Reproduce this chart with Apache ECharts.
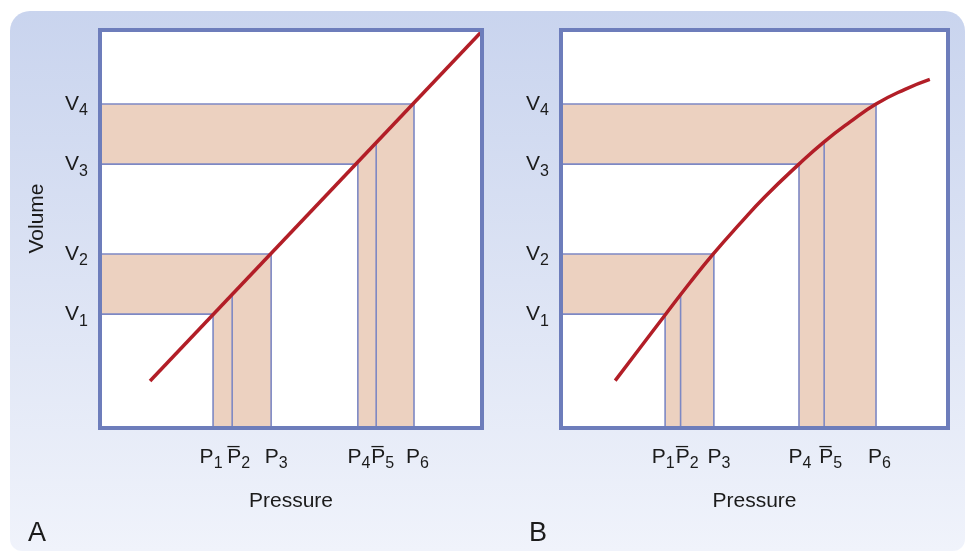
<!DOCTYPE html>
<html><head><meta charset="utf-8">
<script src="https://cdn.jsdelivr.net/npm/echarts@6/dist/echarts.min.js"></script>
<style>html,body{margin:0;padding:0;background:#fff}#c{width:976px;height:551px}</style>
</head><body><div id="c"></div>
<script>
// ---------- data ----------
const volumeTicks = [28.6, 43.7, 66.3, 81.4];          // V1..V4
const volumeTickLabels = ['1', '2', '3', '4'];
const pressureTicksA = [29.6, 34.6, 44.8, 67.5, 72.3, 82.2]; // P1..P6 panel A
const pressureTicksB = [26.9, 30.9, 39.5, 61.5, 68.0, 81.4]; // P1..P6 panel B
const pressureTickLabels = ['1', '2', '3', '4', '5', '6'];
const pressureMeanFlags = [false, true, false, false, true, false];
const lineA = [[13.1, 11.8], [99.6, 99.3]];
const curveB = [[14.0, 11.9], [20.4, 20.1], [26.9, 28.4], [33.3, 36.5], [39.3, 43.7], [46.3, 51.4],
                [52.7, 58.1], [61.5, 66.3], [68.0, 71.9], [74.7, 76.9], [81.4, 81.4], [88.9, 85.1], [95.3, 87.6]];
const meanTopsA = [33.5, 71.7];
const meanTopsB = [33.4, 71.9];

// ---------- style ----------
const FONT = "'Liberation Sans', Arial, Helvetica, sans-serif";
const TXT = '#1b1b1b';
const FRAME = '#6d7dbb';
const BAND_FILL = '#ecd1c0';
const BAND_STROKE = '#7d88c4';
const RED = '#b21e27';
const P_LABEL_SHIFT = [-2, 6.5, 5, 1, 6.5, 3.5];
// label build order (keeps close neighbours away from the first/last slots)
const P_LABEL_ORDER = [3, 0, 1, 2, 4, 5];

function bandsFor(pt, tops) {
  return [
    [volumeTicks[0], volumeTicks[1], pt[0], pt[2], pt[1], tops[0]],
    [volumeTicks[2], volumeTicks[3], pt[3], pt[5], pt[4], tops[1]]
  ];
}

function renderBand(params, api) {
  const vl = api.value(0), vh = api.value(1), pl = api.value(2), ph = api.value(3), pm = api.value(4), pt = api.value(5);
  const pts = [[0, vh], [ph, vh], [ph, 0], [pl, 0], [pl, vl], [0, vl]].map(p => api.coord(p));
  const m0 = api.coord([pm, 0]), m1 = api.coord([pm, pt]);
  return {
    type: 'group',
    children: [
      { type: 'polygon', shape: { points: pts }, style: { fill: BAND_FILL, stroke: BAND_STROKE, lineWidth: 1.6 } },
      { type: 'line', shape: { x1: m0[0], y1: m0[1], x2: m1[0], y2: m1[1] }, style: { stroke: BAND_STROKE, lineWidth: 1.6 } }
    ]
  };
}

const richBase = {
  m: { fontSize: 21, lineHeight: 30, verticalAlign: 'middle', fontFamily: FONT, color: TXT },
  s: { fontSize: 16, lineHeight: 16, verticalAlign: 'bottom', fontFamily: FONT, color: TXT }
};
const richP = Object.assign({}, richBase);
P_LABEL_SHIFT.forEach((d, i) => { richP['sp' + i] = { width: Math.max(0.5, 2 * Math.abs(d)), fontSize: 4, lineHeight: 4 }; });

function pFormatter(ticks) {
  return function (v) {
    const i = ticks.findIndex(t => Math.abs(t - v) < 1e-6);
    if (i < 0) return '';
    const main = pressureMeanFlags[i] ? 'P\u0305' : 'P';
    const body = '{m|' + main + '}{s|' + pressureTickLabels[i] + '}';
    return P_LABEL_SHIFT[i] >= 0 ? '{sp' + i + '| }' + body : body + '{sp' + i + '| }';
  };
}
function vFormatter(v) {
  const i = volumeTicks.findIndex(t => Math.abs(t - v) < 1e-6);
  if (i < 0) return '';
  return '{m|V}{s|' + volumeTickLabels[i] + '}';
}

const frameLine = { show: true, onZero: false, lineStyle: { color: FRAME, width: 4, cap: 'square' } };

function xAxes(gi, ticks) {
  return [
    {
      gridIndex: gi, type: 'value', min: 0, max: 100, position: 'bottom', z: 6,
      axisLine: frameLine, axisTick: { show: false }, splitLine: { show: false },
      axisLabel: { show: true, customValues: P_LABEL_ORDER.map(k => ticks[k]), margin: 14, formatter: pFormatter(ticks), rich: richP,
                   hideOverlap: false, showMinLabel: true, showMaxLabel: true },
      name: 'Pressure', nameLocation: 'middle', nameGap: 63,
      nameTextStyle: { fontSize: 21, fontFamily: FONT, color: TXT }
    },
    {
      gridIndex: gi, type: 'value', min: 0, max: 100, position: 'top', z: 6,
      axisLine: frameLine, axisTick: { show: false }, splitLine: { show: false }, axisLabel: { show: false }
    }
  ];
}
function yAxes(gi, withName) {
  const left = {
    gridIndex: gi, type: 'value', min: 0, max: 100, position: 'left', z: 6,
    axisLine: frameLine, axisTick: { show: false }, splitLine: { show: false },
    axisLabel: { show: true, customValues: volumeTicks, margin: 12, formatter: vFormatter, rich: richBase,
                 hideOverlap: false, showMinLabel: true, showMaxLabel: true }
  };
  if (withName) {
    Object.assign(left, {
      name: 'Volume', nameLocation: 'middle', nameGap: 52, nameRotate: 90,
      nameTextStyle: { fontSize: 21, fontFamily: FONT, color: TXT, padding: [0, 0, 0, 21] }
    });
  }
  return [left, {
    gridIndex: gi, type: 'value', min: 0, max: 100, position: 'right', z: 6,
    axisLine: frameLine, axisTick: { show: false }, splitLine: { show: false }, axisLabel: { show: false }
  }];
}

const chart = echarts.init(document.getElementById('c'), null, { renderer: 'canvas' });
chart.setOption({
  animation: false,
  backgroundColor: '#ffffff',
  graphic: [{
    type: 'rect', z: -100, silent: true,
    shape: { x: 10, y: 11, width: 955, height: 540, r: [20, 20, 12, 12] },
    style: {
      fill: new echarts.graphic.LinearGradient(0, 0, 0, 1, [
        { offset: 0, color: '#c9d4ee' }, { offset: 0.5, color: '#dce3f4' }, { offset: 1, color: '#f0f3fb' }
      ])
    }
  }],
  title: [
    { text: 'A', left: 23, top: 515, padding: 5, textStyle: { fontSize: 27, fontWeight: 'normal', fontFamily: FONT, color: TXT } },
    { text: 'B', left: 524, top: 515, padding: 5, textStyle: { fontSize: 27, fontWeight: 'normal', fontFamily: FONT, color: TXT } }
  ],
  grid: [
    { left: 100, top: 30, width: 382, height: 398, show: true, backgroundColor: '#ffffff', borderWidth: 0 },
    { left: 561, top: 30, width: 387, height: 398, show: true, backgroundColor: '#ffffff', borderWidth: 0 }
  ],
  xAxis: [].concat(xAxes(0, pressureTicksA), xAxes(1, pressureTicksB)),
  yAxis: [].concat(yAxes(0, true), yAxes(1, false)),
  series: [
    {
      type: 'custom', xAxisIndex: 0, yAxisIndex: 0, z: 2, renderItem: renderBand,
      encode: { x: [2, 3, 4], y: [0, 1, 5] }, data: bandsFor(pressureTicksA, meanTopsA), silent: true
    },
    {
      type: 'custom', xAxisIndex: 2, yAxisIndex: 2, z: 2, renderItem: renderBand,
      encode: { x: [2, 3, 4], y: [0, 1, 5] }, data: bandsFor(pressureTicksB, meanTopsB), silent: true
    },
    {
      type: 'line', xAxisIndex: 0, yAxisIndex: 0, z: 4, data: lineA, showSymbol: false, silent: true,
      lineStyle: { color: RED, width: 3.5 }
    },
    {
      type: 'line', xAxisIndex: 2, yAxisIndex: 2, z: 4, data: curveB, showSymbol: false, silent: true,
      smooth: 0.5, lineStyle: { color: RED, width: 3.5 }
    }
  ]
});
</script></body></html>
